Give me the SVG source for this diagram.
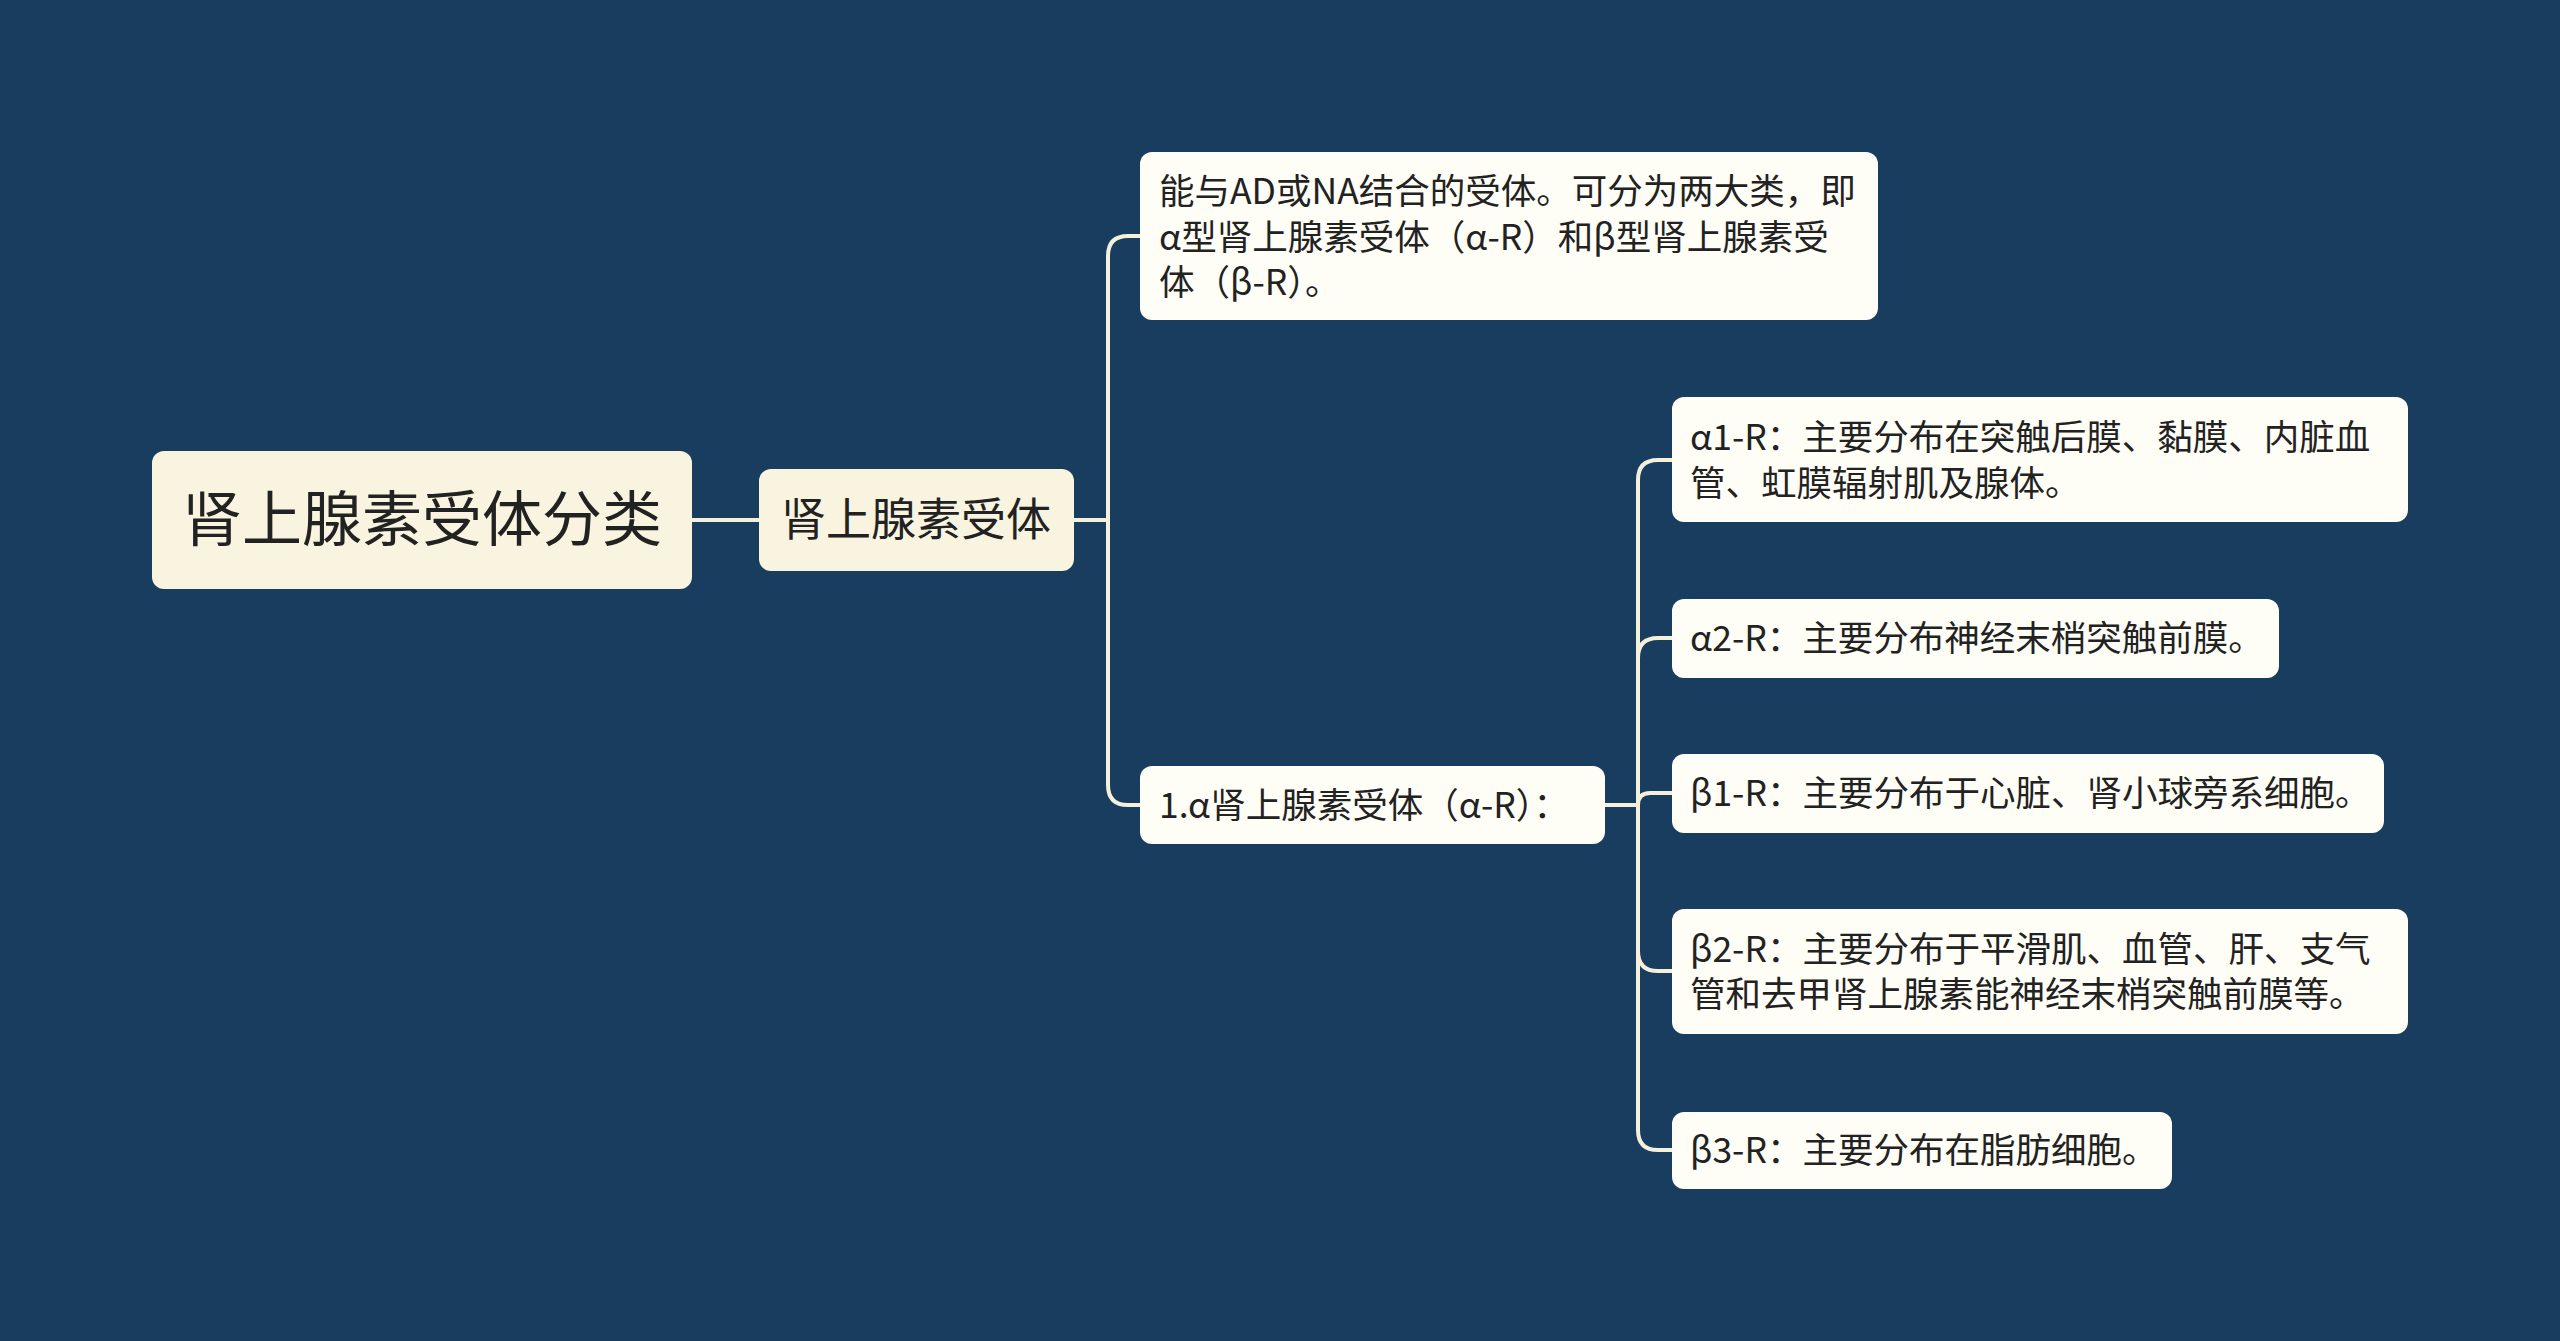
<svg xmlns="http://www.w3.org/2000/svg" width="2560" height="1341" viewBox="0 0 2560 1341">
<style>
.t{font-family:"Noto Sans CJK SC","Microsoft YaHei",sans-serif;fill:#222222}
.root{fill:#f8f4df}
.sub{fill:#f8f4df}
.leaf{fill:#fefdf6}
.c{fill:none;stroke:#f5f0dc;stroke-width:4}
</style>
<rect x="0" y="0" width="2560" height="1341" fill="#183d5e"/>
<g id="connectors">
<path class="c" d="M692,520 H759"/>
<path class="c" d="M1074,520 H1108"/>
<path class="c" d="M1140,236 H1128 Q1108,236 1108,256 V785 Q1108,805 1128,805 H1140"/>
<path class="c" d="M1605,805 H1638"/>
<path class="c" d="M1672,460 H1658 Q1638,460 1638,480 V1130 Q1638,1150 1658,1150 H1672"/>
<path class="c" d="M1638,805 V658 Q1638,638 1658,638 H1672"/>
<path class="c" d="M1638,805 V805 Q1638,793 1650,793 H1672"/>
<path class="c" d="M1638,805 V951 Q1638,971 1658,971 H1672"/>
</g>
<g id="node-root">
<rect class="root" x="152" y="451" width="540" height="138" rx="12"/>
<text class="t" x="422" y="541" font-size="60" text-anchor="middle">肾上腺素受体分类</text>
</g>
<g id="node-sub">
<rect class="sub" x="759" y="469" width="315" height="102" rx="12"/>
<text class="t" x="916" y="536" font-size="45" text-anchor="middle">肾上腺素受体</text>
</g>
<g id="node-def">
<rect class="leaf" x="1140" y="152" width="738" height="168" rx="12"/>
<text class="t" font-size="35.5"><tspan x="1159" y="204">能与AD或NA结合的受体。可分为两大类，即</tspan><tspan x="1159" y="250">α型肾上腺素受体（α-R）和β型肾上腺素受</tspan><tspan x="1159" y="295">体（β-R）。</tspan></text>
</g>
<g id="node-alpha">
<rect class="leaf" x="1140" y="766" width="465" height="78" rx="12"/>
<text class="t" x="1159" y="818" font-size="35.5">1.α肾上腺素受体（α-R）：</text>
</g>
<g id="node-a1">
<rect class="leaf" x="1672" y="397" width="736" height="125" rx="12"/>
<text class="t" font-size="35.5"><tspan x="1690" y="450">α1-R：主要分布在突触后膜、黏膜、内脏血</tspan><tspan x="1690" y="496">管、虹膜辐射肌及腺体。</tspan></text>
</g>
<g id="node-a2">
<rect class="leaf" x="1672" y="599" width="607" height="79" rx="12"/>
<text class="t" x="1690" y="651" font-size="35.5">α2-R：主要分布神经末梢突触前膜。</text>
</g>
<g id="node-b1">
<rect class="leaf" x="1672" y="754" width="712" height="79" rx="12"/>
<text class="t" x="1690" y="806" font-size="35.5">β1-R：主要分布于心脏、肾小球旁系细胞。</text>
</g>
<g id="node-b2">
<rect class="leaf" x="1672" y="909" width="736" height="125" rx="12"/>
<text class="t" font-size="35.5"><tspan x="1690" y="962">β2-R：主要分布于平滑肌、血管、肝、支气</tspan><tspan x="1690" y="1007">管和去甲肾上腺素能神经末梢突触前膜等。</tspan></text>
</g>
<g id="node-b3">
<rect class="leaf" x="1672" y="1112" width="500" height="77" rx="12"/>
<text class="t" x="1690" y="1163" font-size="35.5">β3-R：主要分布在脂肪细胞。</text>
</g>
</svg>
